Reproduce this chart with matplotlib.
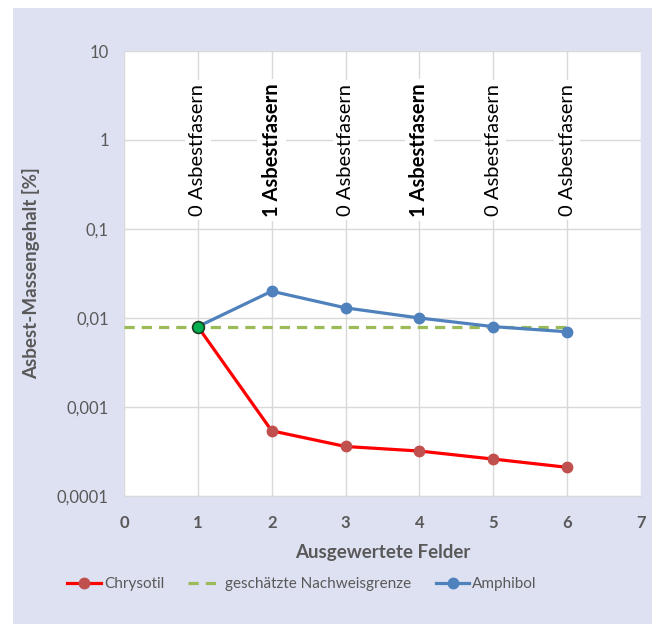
import matplotlib.pyplot as plt
from matplotlib.patches import Rectangle

plt.rcParams["font.family"] = ["Lato", "DejaVu Sans"]

felder = [1, 2, 3, 4, 5, 6]
chrysotil = [0.008, 0.00054, 0.00036, 0.00032, 0.00026, 0.00021]
amphibol = [0.008, 0.02, 0.013, 0.01, 0.008, 0.007]
nachweis_x = [0, 1, 2, 3, 4, 5, 6]
nachweis = [0.008] * 7
fasern = [0, 1, 0, 1, 0, 0]

text_grey = "#595959"
bg = "#DEE1F2"

fig = plt.figure(figsize=(6.6, 6.24), dpi=100)
fig.patches.append(Rectangle((13 / 660, 0), (652 - 13) / 660, 1 - 8 / 624,
                             transform=fig.transFigure, facecolor=bg,
                             edgecolor="none", zorder=-1))

ax = fig.add_axes([124 / 660, 1 - 496 / 624, (641 - 124) / 660, (496 - 51) / 624])
ax.set_facecolor("white")

ax.plot(felder, chrysotil, color="#FF0000", lw=2.3, marker="o", ms=7.5,
        mfc="#C0504D", mec="#C0504D", label="Chrysotil", zorder=3)
ax.plot(nachweis_x, nachweis, color="#9BBB59", lw=2.3, ls=(0, (3.2, 2.2)),
        label="geschätzte Nachweisgrenze", zorder=3)
ax.plot(felder, amphibol, color="#4F81BD", lw=2.3, marker="o", ms=7.5,
        mfc="#4F81BD", mec="#4F81BD", label="Amphibol", zorder=4)
ax.plot([1], [nachweis[1]], ls="none", marker="o", ms=8.5, mfc="#00B050",
        mec="#1E3A1E", mew=1.2, zorder=5)

# Anzahl gefundener Fasern je Feld als senkrechte Beschriftung
for x, n in zip(felder, fasern):
    ax.text(x, 0.77, f"{n} Asbestfasern", rotation=90, ha="center", va="center",
            fontsize=14.5, fontweight="bold" if n > 0 else "normal", color="black",
            bbox=dict(facecolor="white", edgecolor="none", pad=3), zorder=2)

ax.set_yscale("log")
ax.set_ylim(0.0001, 10)
ax.set_xlim(0, 7)
ax.set_xticks(range(8))
ax.set_yticks([0.0001, 0.001, 0.01, 0.1, 1, 10])
ax.set_yticklabels(["0,0001", "0,001", "0,01", "0,1", "1", "10"])
ax.minorticks_off()
ax.grid(True, color="#D9D9D9", lw=1)
ax.set_axisbelow(True)
for s in ax.spines.values():
    s.set_visible(False)
ax.spines["bottom"].set_visible(True)
ax.spines["bottom"].set_color("#D9D9D9")
ax.tick_params(length=0, labelsize=12, colors=text_grey)
ax.tick_params(axis="x", pad=14)
ax.tick_params(axis="y", pad=11)
for lbl in ax.get_xticklabels():
    lbl.set_fontweight("bold")

ax.set_xlabel("Ausgewertete Felder", fontsize=13.5, fontweight="bold",
              color=text_grey, labelpad=9)
ax.set_ylabel("Asbest-Massengehalt [%]", fontsize=13.5, fontweight="bold",
              color=text_grey, labelpad=12)

handles, labels = ax.get_legend_handles_labels()
fig.legend(handles, labels, loc="center", bbox_to_anchor=(302 / 660, 0.064),
           ncol=3, frameon=False, fontsize=11, labelcolor=text_grey,
           handlelength=2.2, columnspacing=1.6, handletextpad=0.2)

fig.savefig("out.png", dpi=100)
